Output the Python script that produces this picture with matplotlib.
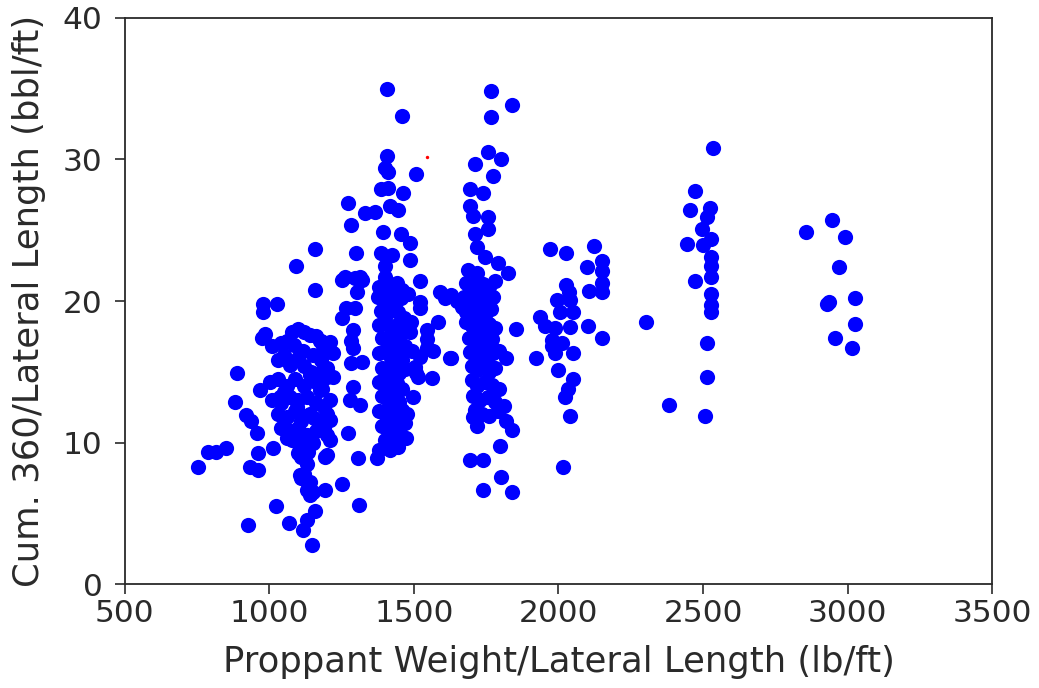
import matplotlib
matplotlib.use("Agg")
import matplotlib.pyplot as plt

# proppant weight / lateral length (lb/ft)
prop = [
    # low end
    754, 788, 817, 852, 888, 881, 927, 921, 938, 956, 967, 1002, 1036, 961, 932, 961, 1013,
    978, 1025, 978, 984, 975, 1022, 1068, 1117, 1129, 1157, 1149, 1192, 1192, 1129, 1105, 1100,
    1092, 1157, 1157,
    # 1000-1200 cluster
    1040, 1060, 1080, 1100, 1120, 1140, 1160, 1180, 1200, 1220,
    1050, 1030, 1070, 1100, 1120, 1150, 1180, 1010,
    1030, 1060, 1090, 1120, 1140, 1160, 1180, 1200,
    1010, 1040, 1070, 1100, 1130, 1160, 1190, 1210,
    1030, 1060, 1090, 1110, 1140, 1170, 1200,
    1040, 1070, 1100, 1130, 1160, 1190, 1210,
    1060, 1100, 1120, 1150, 1110, 1130, 1120, 1140, 1110, 1150, 1140,
    1085, 1115, 1145, 1175, 1095, 1125, 1155, 1050, 1080, 1135,
    # 1200-1350
    1261, 1313, 1250, 1296, 1319, 1302, 1267, 1296, 1250, 1290, 1209, 1175, 1185, 1284, 1290,
    1284, 1319, 1198, 1221, 1290, 1181, 1278, 1313, 1209, 1273, 1198, 1198, 1307, 1250, 1310,
    1273, 1281, 1299, 1330, 1365,
    # 1400 band, upper
    1408, 1460, 1408, 1400, 1411, 1507, 1388, 1411, 1463, 1417, 1446, 1393, 1457, 1486, 1388,
    1423, 1488, 1400, 1400,
    # 1400 band, dense
    1380, 1400, 1420, 1440, 1460, 1375, 1395, 1415, 1435, 1455, 1385, 1405, 1425, 1445, 1465,
    1380, 1400, 1420, 1440, 1460, 1390, 1410, 1430, 1450, 1470, 1380, 1400, 1420, 1440, 1460,
    1390, 1410, 1430, 1450, 1470, 1380, 1400, 1420, 1440, 1460, 1390, 1410, 1430, 1450,
    1380, 1400, 1420, 1440, 1460, 1390, 1410, 1430, 1450, 1400, 1420, 1440, 1380, 1417, 1446, 1371,
    # right of 1400 band
    1521, 1590, 1607, 1521, 1521, 1584, 1544, 1544, 1544, 1492, 1521, 1567, 1624, 1509, 1515,
    1561, 1497, 1469, 1472, 1503, 1475, 1480, 1490, 1485,
    1630, 1650, 1665, 1680, 1630,
    # 1700 band, upper
    1765, 1838, 1765, 1757, 1711, 1801, 1774, 1694, 1740, 1694, 1705, 1757, 1757, 1711, 1717,
    1746, 1688, 1792, 1826, 1717,
    # 1700 band, dense
    1680, 1700, 1720, 1740, 1760, 1780, 1675, 1695, 1715, 1735, 1755, 1775,
    1685, 1705, 1725, 1745, 1765, 1680, 1700, 1720, 1740, 1760, 1780,
    1690, 1710, 1730, 1750, 1770, 1695, 1715, 1735, 1755, 1775, 1795,
    1700, 1720, 1740, 1760, 1780, 1700, 1720, 1745, 1770, 1795,
    1705, 1730, 1755, 1780, 1810, 1710, 1735, 1760, 1790,
    1820, 1838, 1820, 1798, 1694, 1740, 1800, 1740, 1838, 1717, 1705, 1853,
    # 2000 group
    1971, 2026, 2123, 2097, 2149, 2149, 2149, 2026, 2038, 2106, 2149, 1994, 2040, 2051, 1936,
    2005, 1953, 1988, 2040, 2103, 2149, 1976, 2011, 1976, 1988, 2051, 1924, 1999, 2051, 2034,
    2022, 2040, 2014,
    # 2300-2550
    2536, 2472, 2455, 2524, 2512, 2495, 2443, 2499, 2527, 2527, 2527, 2527, 2472, 2527, 2527,
    2527, 2303, 2515, 2515, 2382, 2507,
    # 2850-3030
    2856, 2945, 2991, 2971, 2934, 2928, 3026, 3026, 2957, 3016,
]

# cumulative 360-day production / lateral length (bbl/ft)
cum360 = [
    8.3, 9.35, 9.35, 9.6, 14.9, 12.9, 4.2, 11.95, 11.5, 10.65, 13.7, 14.3, 13.25, 9.25, 8.3, 8.05, 9.6,
    19.8, 19.8, 19.25, 17.7, 17.4, 5.5, 4.3, 3.8, 4.5, 5.2, 2.75, 6.65, 9.0, 6.65, 7.7, 9.25,
    22.5, 23.7, 20.8,
    17.0, 17.2, 17.8, 18.0, 17.8, 17.6, 17.5, 17.2, 16.6, 16.3,
    16.2, 15.8, 15.5, 16.0, 15.4, 16.2, 15.8, 16.8,
    14.5, 14.0, 14.5, 14.0, 14.8, 14.3, 15.0, 14.6,
    13.0, 12.8, 13.2, 13.0, 13.2, 12.8, 12.5, 13.0,
    12.0, 11.8, 12.2, 11.5, 12.0, 11.5, 12.0,
    11.0, 10.8, 11.0, 10.5, 10.8, 11.0, 10.2,
    10.3, 10.0, 9.6, 10.0, 9.0, 8.5, 7.8, 7.2, 7.5, 6.5, 6.3,
    16.9, 16.5, 15.0, 13.7, 12.5, 11.9, 11.7, 13.6, 10.2, 9.3,
    21.7, 21.7, 21.5, 21.6, 21.5, 20.65, 19.5, 19.5, 18.8, 17.95, 17.1, 17.2, 16.8, 17.2, 16.65,
    15.6, 15.7, 15.25, 14.65, 13.95, 13.8, 13.0, 12.65, 11.6, 10.65, 10.5, 9.1, 8.9, 7.1, 5.6,
    26.9, 25.4, 23.4, 26.25, 26.3,
    34.96, 33.1, 30.25, 29.4, 29.1, 28.95, 27.9, 28.0, 27.65, 26.7, 26.4, 24.9, 24.7, 24.1, 23.4,
    23.25, 22.9, 22.5, 21.7,
    21.0, 21.2, 21.0, 21.3, 20.8, 20.3, 20.0, 20.4, 19.8, 20.2, 19.3, 19.0, 19.5, 19.2, 18.8,
    18.3, 18.5, 18.0, 18.3, 17.8, 17.4, 17.0, 17.5, 17.0, 16.8, 16.3, 16.5, 16.0, 16.3, 15.8,
    15.3, 15.0, 15.4, 14.9, 15.2, 14.3, 14.0, 14.5, 14.2, 13.8, 13.3, 13.0, 13.4, 12.9,
    12.2, 12.0, 12.4, 11.9, 12.3, 11.2, 11.0, 11.3, 10.8, 10.2, 9.9, 10.3, 9.5, 9.5, 9.7, 8.9,
    21.4, 20.65, 20.2, 19.95, 19.5, 18.5, 17.95, 17.35, 16.65, 16.5, 16.05, 16.5, 15.95, 14.9, 14.65,
    14.55, 13.25, 11.35, 10.3, 15.35, 12.05, 20.5, 18.5, 17.8,
    20.4, 20.0, 19.6, 19.2, 16.0,
    34.8, 33.85, 33.0, 30.5, 29.7, 30.0, 28.8, 27.9, 27.6, 26.7, 26.0, 25.9, 25.1, 24.7, 23.8,
    23.1, 22.2, 22.7, 21.95, 21.95,
    21.3, 21.0, 21.5, 21.2, 21.0, 21.4, 20.3, 20.6, 20.2, 20.5, 20.0, 20.3,
    19.5, 19.2, 19.6, 19.0, 19.4, 18.5, 18.2, 18.6, 18.0, 18.4, 18.1,
    17.4, 17.0, 17.5, 17.1, 17.3, 16.4, 16.0, 16.5, 16.1, 16.3, 16.5,
    15.4, 15.1, 15.5, 15.0, 15.3, 14.4, 14.0, 14.3, 14.1, 13.8,
    13.3, 13.0, 13.2, 12.9, 12.6, 12.3, 12.0, 11.9, 12.2,
    16.0, 10.9, 11.5, 9.75, 8.8, 8.8, 7.6, 6.65, 6.5, 11.2, 11.8, 18.0,
    23.7, 23.4, 23.9, 22.4, 22.8, 22.1, 21.25, 21.1, 20.65, 20.7, 20.65, 20.1, 20.1, 19.25, 18.85,
    19.25, 18.2, 18.1, 18.15, 18.2, 17.4, 17.25, 17.0, 16.8, 16.3, 16.3, 16.0, 15.1, 14.5, 13.8,
    13.2, 11.9, 8.25,
    30.8, 27.8, 26.4, 26.55, 25.9, 25.1, 24.0, 23.96, 24.4, 23.1, 22.5, 21.7, 21.4, 20.5, 19.7,
    19.2, 18.5, 17.05, 14.65, 12.65, 11.9,
    24.9, 25.7, 24.5, 22.4, 19.95, 19.8, 20.2, 18.35, 17.4, 16.65,
]

# single highlighted well
red_x = [1545]
red_y = [30.2]

fig = plt.figure(figsize=(10.39, 6.88), dpi=100)
ax = fig.add_axes([0.120, 0.151, 0.835, 0.823])
ax.scatter(prop, cum360, s=120, c='b', linewidths=0)
ax.scatter(red_x, red_y, s=6, c='r', linewidths=0)

ax.set_xlim(500, 3500)
ax.set_ylim(0, 40)
ax.set_xticks([500, 1000, 1500, 2000, 2500, 3000, 3500])
ax.set_yticks([0, 10, 20, 30, 40])
ax.tick_params(labelsize=22.5, length=7, width=1.2, colors='#2a2a2a')
ax.tick_params(axis='y', pad=9)
ax.tick_params(axis='x', pad=4)
for s in ax.spines.values():
    s.set_linewidth(1.3)
    s.set_color('#2a2a2a')
ax.set_xlabel('Proppant Weight/Lateral Length (lb/ft)', fontsize=25.5, color='#2a2a2a', labelpad=12)
ax.set_ylabel('Cum. 360/Lateral Length (bbl/ft)', fontsize=25.5, color='#2a2a2a', labelpad=12)

fig.savefig('out.png', dpi=100)
